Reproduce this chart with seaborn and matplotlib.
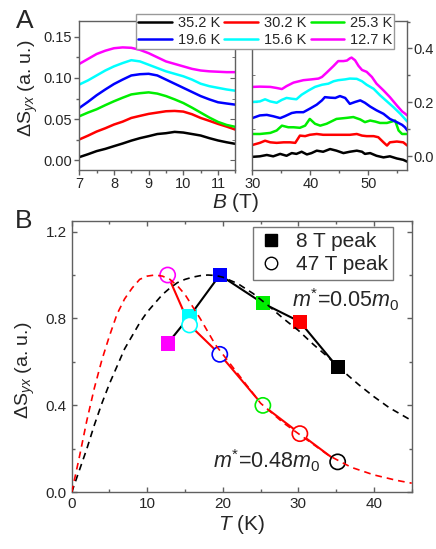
import numpy as np
import matplotlib
matplotlib.use('Agg')
import matplotlib.pyplot as plt
from matplotlib.ticker import MultipleLocator, FormatStrFormatter
from matplotlib.lines import Line2D
import seaborn as sns

sns.set_style('ticks')
plt.rcParams['font.family'] = ['Liberation Sans', 'DejaVu Sans']
plt.rcParams['mathtext.fontset'] = 'custom'
plt.rcParams['mathtext.rm'] = 'Liberation Sans'
plt.rcParams['mathtext.it'] = 'Liberation Sans:italic'

# temperatures and colours of the six sweeps
temps = [35.2, 30.2, 25.3, 19.6, 15.6, 12.7]
temp_labels = ['35.2 K', '30.2 K', '25.3 K', '19.6 K', '15.6 K', '12.7 K']
colors = ['#000000', '#ff0000', '#00ee00', '#0000ff', '#00ffff', '#ff00ff']

# panel A, low field (7-11.5 T)
b_low = [7.0, 7.25, 7.5, 7.75, 8.0, 8.25, 8.5, 8.75, 9.0, 9.25,
         9.5, 9.75, 10.0, 10.25, 10.5, 10.75, 11.0, 11.25, 11.5]
low_352 = [0.004, 0.0075, 0.0113, 0.014, 0.0173, 0.0205, 0.024, 0.027, 0.0294, 0.032,
           0.033, 0.0346, 0.0338, 0.032, 0.0302, 0.027, 0.0242, 0.022, 0.0201]
low_302 = [0.0254, 0.030, 0.035, 0.039, 0.0435, 0.047, 0.0515, 0.054, 0.0564, 0.058,
           0.0596, 0.060, 0.0592, 0.056, 0.0515, 0.048, 0.0443, 0.041, 0.0374]
low_253 = [0.0535, 0.058, 0.062, 0.067, 0.0717, 0.076, 0.080, 0.0815, 0.0825, 0.081,
           0.078, 0.074, 0.0696, 0.064, 0.058, 0.052, 0.0467, 0.043, 0.0407]
low_196 = [0.0636, 0.071, 0.079, 0.086, 0.0926, 0.098, 0.103, 0.1045, 0.105, 0.103,
           0.098, 0.093, 0.088, 0.083, 0.078, 0.074, 0.0705, 0.069, 0.0676]
low_156 = [0.092, 0.097, 0.103, 0.109, 0.114, 0.118, 0.1215, 0.120, 0.116, 0.112,
           0.108, 0.105, 0.102, 0.098, 0.093, 0.090, 0.088, 0.086, 0.0845]
low_127 = [0.117, 0.123, 0.129, 0.133, 0.136, 0.137, 0.1365, 0.134, 0.130, 0.125,
           0.120, 0.117, 0.114, 0.111, 0.109, 0.108, 0.1075, 0.107, 0.107]

# panel A, high field (30-57 T)
b_352 = [30.0, 31.3, 32.5, 33.6, 34.8, 35.9, 36.8, 37.6, 38.5, 39.4, 40.2, 41.1, 42.2, 43.4,
         44.5, 45.7, 46.8, 48.0, 48.9, 49.4, 50.3, 51.4, 52.6, 53.7, 54.9, 56.0, 56.7]
high_352 = [-0.003, -0.001, 0.004, -0.001, 0.008, 0.001, 0.011, 0.008, 0.016, 0.006, 0.011,
            0.020, 0.016, 0.026, 0.020, 0.011, 0.016, 0.020, 0.016, 0.008, 0.011, 0.001,
            -0.005, -0.001, -0.009, -0.014, -0.021]
b_302 = [30.0, 31.3, 32.2, 33.1, 34.2, 35.4, 36.5, 37.4, 38.2, 39.1, 39.9, 41.1, 42.2, 43.4,
         44.5, 45.7, 46.8, 48.0, 48.9, 49.7, 50.9, 51.7, 52.6, 53.2, 53.7, 54.9, 56.0, 56.7]
high_302 = [0.041, 0.049, 0.057, 0.051, 0.049, 0.051, 0.051, 0.049, 0.076, 0.074, 0.079,
            0.082, 0.079, 0.079, 0.079, 0.079, 0.079, 0.082, 0.076, 0.074, 0.074, 0.070,
            0.051, 0.039, 0.051, 0.054, 0.051, 0.039]
b_253 = [30.0, 31.3, 33.1, 34.2, 35.1, 36.2, 37.1, 38.2, 39.1, 39.9, 40.8, 41.7, 42.8, 44.5,
         46.3, 47.4, 48.6, 49.4, 50.3, 51.2, 52.0, 53.2, 54.0, 54.6, 55.2, 55.8, 56.7]
high_253 = [0.082, 0.082, 0.086, 0.095, 0.113, 0.107, 0.107, 0.105, 0.113, 0.138, 0.120,
            0.113, 0.120, 0.138, 0.142, 0.145, 0.136, 0.126, 0.132, 0.128, 0.123, 0.123,
            0.128, 0.132, 0.095, 0.082, 0.082]
b_196 = [30.0, 31.3, 32.5, 33.6, 34.8, 35.6, 36.8, 37.6, 38.8, 39.9, 41.1, 42.0, 42.5, 43.4,
         44.3, 45.1, 46.0, 46.8, 47.7, 48.6, 49.4, 50.3, 51.4, 52.6, 53.7, 54.9, 55.8, 56.3, 56.7]
high_196 = [0.141, 0.151, 0.153, 0.148, 0.141, 0.148, 0.160, 0.163, 0.163, 0.176, 0.191,
            0.207, 0.219, 0.217, 0.216, 0.223, 0.216, 0.194, 0.201, 0.207, 0.198, 0.184,
            0.170, 0.157, 0.138, 0.126, 0.116, 0.107, 0.095]
b_156 = [30.0, 31.3, 32.2, 33.1, 34.2, 35.1, 35.9, 36.8, 37.6, 38.5, 39.7, 40.8, 42.0, 43.1,
         44.0, 44.8, 46.0, 46.8, 48.0, 48.9, 49.7, 50.9, 52.0, 53.2, 54.3, 55.5, 56.3, 56.7]
high_156 = [0.201, 0.203, 0.211, 0.203, 0.198, 0.209, 0.216, 0.213, 0.211, 0.228, 0.244,
            0.257, 0.265, 0.269, 0.278, 0.282, 0.285, 0.288, 0.287, 0.278, 0.265, 0.250,
            0.226, 0.203, 0.182, 0.157, 0.138, 0.128]
b_127 = [30.0, 31.3, 33.1, 34.2, 35.1, 35.9, 37.1, 38.8, 40.2, 41.4, 42.0, 42.8, 44.0, 44.8,
         45.7, 46.3, 46.8, 47.1, 47.7, 48.3, 48.9, 49.7, 50.6, 51.4, 52.6, 53.7, 54.9, 55.8,
         56.3, 56.7]
high_127 = [0.257, 0.258, 0.257, 0.253, 0.249, 0.260, 0.273, 0.282, 0.285, 0.288, 0.294,
            0.310, 0.335, 0.353, 0.353, 0.355, 0.363, 0.366, 0.356, 0.335, 0.320, 0.313,
            0.294, 0.269, 0.244, 0.219, 0.188, 0.166, 0.158, 0.151]

# panel B, peak amplitudes (normalised)
peak8 = [0.575, 0.785, 0.87, 1.0, 0.81, 0.685]
peak47 = [0.14, 0.27, 0.40, 0.635, 0.77, 1.0]

# LK fits
t_fit8 = [0, 1, 2, 3, 4, 5, 6, 7, 8, 9, 10, 11, 12, 13, 14, 15, 16, 17, 18, 19, 20,
          22, 24, 26, 28, 30, 32, 34, 36, 38, 40, 42, 45]
fit8 = [0.0, 0.10, 0.20, 0.31, 0.41, 0.50, 0.58, 0.66, 0.72, 0.78, 0.83, 0.87, 0.91,
        0.94, 0.965, 0.98, 0.99, 0.997, 1.0, 0.998, 0.99, 0.96, 0.915, 0.86, 0.80,
        0.745, 0.68, 0.62, 0.555, 0.495, 0.44, 0.39, 0.33]
t_fit47 = [0, 1, 2, 3, 4, 5, 6, 7, 8, 9, 10, 11, 12, 13, 14, 15, 17, 19, 21, 23, 25,
           28, 31, 34, 37, 40, 43, 45]
fit47 = [0.0, 0.16, 0.33, 0.48, 0.61, 0.72, 0.82, 0.89, 0.94, 0.98, 0.995, 1.0, 0.995,
         0.98, 0.95, 0.91, 0.80, 0.68, 0.59, 0.50, 0.41, 0.32, 0.245, 0.17, 0.115,
         0.08, 0.055, 0.042]

low_curves = [low_352, low_302, low_253, low_196, low_156, low_127]
high_b = [b_352, b_302, b_253, b_196, b_156, b_127]
high_curves = [high_352, high_302, high_253, high_196, high_156, high_127]

spine_c = '#606060'
ylab = r'$\mathit{\Delta}$S$_{yx}$ (a. u.)'
W, H = 436, 549
fig = plt.figure(figsize=(W / 100, H / 100), dpi=100)

def box(l, t, r, b):
    return [l / W, 1 - b / H, (r - l) / W, (b - t) / H]

ax1 = fig.add_axes(box(79.3, 21, 235.3, 169.5))
ax2 = fig.add_axes(box(252.3, 21, 407.3, 169.5))
ax3 = fig.add_axes(box(71.7, 220.7, 411.7, 492.3))

for ax in (ax1, ax2, ax3):
    for s in ax.spines.values():
        s.set_color(spine_c)
        s.set_linewidth(1.0)
    ax.tick_params(which='both', color=spine_c, labelsize=10.5, width=1.0)
    ax.tick_params(which='major', length=3.5)
    ax.tick_params(which='minor', length=2)

# --- panel A left
for b_y, c in zip(low_curves, colors):
    sns.lineplot(x=b_low, y=b_y, ax=ax1, color=c, lw=1.8, legend=False)
ax1.set_xlim(7, 11.5)
ax1.set_ylim(-0.011, 0.169)
ax1.xaxis.set_major_locator(MultipleLocator(1))
ax1.xaxis.set_minor_locator(MultipleLocator(0.5))
ax1.yaxis.set_major_locator(MultipleLocator(0.05))
ax1.yaxis.set_minor_locator(MultipleLocator(0.025))
ax1.yaxis.set_major_formatter(FormatStrFormatter('%.2f'))
ax1.tick_params(which='both', direction='out', pad=2)
ax1.set_xlabel('')
ax1.set_ylabel('')
sec = ax1.secondary_yaxis('right')
sec.yaxis.set_major_locator(MultipleLocator(0.05))
sec.yaxis.set_minor_locator(MultipleLocator(0.025))
sec.tick_params(which='both', direction='in', labelright=False, color=spine_c)
sec.spines['right'].set_visible(False)

# --- panel A right
for b_x, b_y, c in zip(high_b, high_curves, colors):
    sns.lineplot(x=b_x, y=b_y, ax=ax2, color=c, lw=1.8, legend=False)
ax2.set_xlim(30, 56.7)
ax2.set_ylim(-0.05, 0.502)
ax2.xaxis.set_major_locator(MultipleLocator(10))
ax2.xaxis.set_minor_locator(MultipleLocator(5))
ax2.yaxis.set_major_locator(MultipleLocator(0.2))
ax2.yaxis.set_minor_locator(MultipleLocator(0.1))
ax2.yaxis.tick_right()
ax2.tick_params(which='both', direction='out', pad=1)
ax2.tick_params(axis='x', pad=2)
sec2 = ax2.secondary_yaxis('left')
sec2.yaxis.set_major_locator(MultipleLocator(0.2))
sec2.yaxis.set_minor_locator(MultipleLocator(0.1))
sec2.tick_params(which='both', direction='in', labelleft=False, color=spine_c)
sec2.spines['left'].set_visible(False)

fig.text(28 / W, 1 - 88 / H, ylab, fontsize=14, rotation=90, ha='center', va='center')
fig.text(236 / W, 1 - 202 / H, r'$B$ (T)', fontsize=15, ha='center', va='center')
fig.text(16 / W, 1 - 21 / H, 'A', fontsize=19, ha='left', va='center')

# legend filled row by row like the reference
order = [0, 3, 1, 4, 2, 5]
handles = [Line2D([], [], color=colors[i], lw=1.8) for i in order]
leg = fig.legend(handles, [temp_labels[i] for i in order], loc='upper left', ncol=3,
                 bbox_to_anchor=(129 / W, 1 - 7 / H), fontsize=10.5,
                 handlelength=2.3, handletextpad=0.4, columnspacing=0.3,
                 borderpad=0.15, labelspacing=0.15, fancybox=False,
                 framealpha=1, edgecolor='#999999')
leg.get_frame().set_linewidth(1.0)

# --- panel B
sns.lineplot(x=t_fit8, y=fit8, ax=ax3, color='black', lw=1.2, legend=False, zorder=6)
sns.lineplot(x=t_fit47, y=fit47, ax=ax3, color='red', lw=1.2, legend=False, zorder=6)
ax3.lines[0].set_dashes((4, 3))
ax3.lines[1].set_dashes((4, 3))
sns.lineplot(x=temps, y=peak8, ax=ax3, color='black', lw=1.5, legend=False, zorder=2)
sns.lineplot(x=temps, y=peak47, ax=ax3, color='red', lw=1.5, legend=False, zorder=2)
ax3.scatter(temps, peak8, marker='s', s=105, c=colors, edgecolors='none', zorder=4)
ax3.scatter(temps, peak47, marker='o', s=120, facecolors='white', edgecolors=colors,
            linewidths=1.2, zorder=5)
ax3.set_xlim(0, 45)
ax3.set_ylim(0, 1.25)
ax3.xaxis.set_major_locator(MultipleLocator(10))
ax3.xaxis.set_minor_locator(MultipleLocator(5))
ax3.yaxis.set_major_locator(MultipleLocator(0.4))
ax3.yaxis.set_minor_locator(MultipleLocator(0.2))
ax3.tick_params(which='both', direction='in', top=True, right=True, labelsize=11)
ax3.set_xlabel(r'$T$ (K)', fontsize=15, labelpad=1)
ax3.set_ylabel('')
fig.text(25 / W, 1 - 370 / H, ylab, fontsize=14, rotation=90, ha='center', va='center')
ax3.text(29.1, 0.85, r'$m^{*}$=0.05$m_0$', fontsize=15.5, ha='left', va='baseline')
ax3.text(18.7, 0.11, r'$m^{*}$=0.48$m_0$', fontsize=15.5, ha='left', va='baseline')
fig.text(15 / W, 1 - 221 / H, 'B', fontsize=19, ha='left', va='center')

leg_h = [Line2D([], [], marker='s', ls='none', color='black', ms=8),
         Line2D([], [], marker='o', ls='none', mfc='white', mec='black', ms=9, mew=1.0)]
leg2 = ax3.legend(leg_h, ['8 T peak', '47 T peak'], loc='upper right',
                  bbox_to_anchor=(0.945, 0.977), borderaxespad=0, fontsize=15,
                  handlelength=1.2, handletextpad=0.6, borderpad=0.25,
                  labelspacing=0.2, fancybox=False, framealpha=1, edgecolor='#777777')
leg2.get_frame().set_linewidth(1.0)

fig.savefig('out.png', dpi=100)
